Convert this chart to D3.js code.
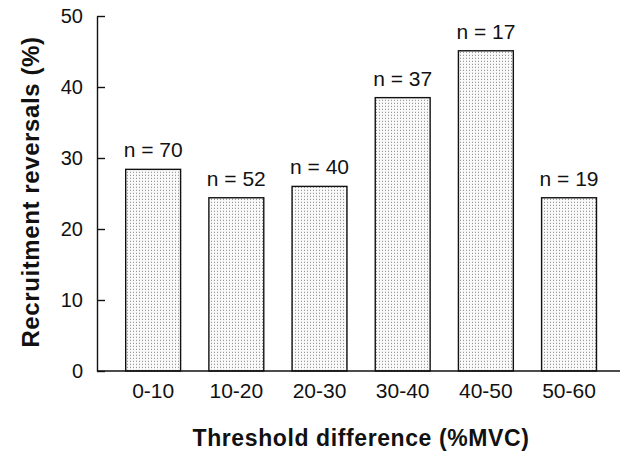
<!DOCTYPE html>
<html>
<head>
<meta charset="utf-8">
<script src="https://cdn.jsdelivr.net/npm/d3@7/dist/d3.min.js"></script>
<style>
  body { margin: 0; background: #fff; }
  svg { display: block; font-family: "Liberation Sans", Arial, sans-serif; }
</style>
</head>
<body>
<svg id="chart" width="623" height="451"></svg>
<script>
"use strict";

// data
var categories = ["0-10", "10-20", "20-30", "30-40", "40-50", "50-60"];
var reversals = [28.4, 24.4, 26.0, 38.5, 45.1, 24.4];
var counts = [70, 52, 40, 37, 17, 19];
var yTicks = [0, 10, 20, 30, 40, 50];

var svg = d3.select("#chart");

// stipple fill for the bars
var defs = svg.append("defs");
var pat = defs.append("pattern")
    .attr("id", "stipple")
    .attr("patternUnits", "userSpaceOnUse")
    .attr("width", 3).attr("height", 3);
pat.append("rect").attr("width", 3).attr("height", 3).attr("fill", "#fafafa");
pat.append("rect").attr("x", 1).attr("y", 1).attr("width", 1).attr("height", 1).attr("fill", "#9a9a9a");
pat.append("rect").attr("x", 1).attr("y", 0).attr("width", 1).attr("height", 1).attr("fill", "#e2e2e2");

var axisX = 97, axisRight = 620;

var y = d3.scaleLinear().domain([0, 50]).range([371, 16]);
var x = d3.scaleBand()
    .domain(categories)
    .range([125.7, 596.5])
    .paddingInner(0.34)
    .paddingOuter(0);

// bars
svg.append("g").selectAll("rect")
    .data(reversals)
    .enter()
    .append("rect")
    .attr("x", function(d, i) { return x(categories[i]); })
    .attr("y", function(d) { return y(d); })
    .attr("width", x.bandwidth())
    .attr("height", function(d) { return y(0) - y(d); })
    .attr("fill", "url(#stipple)")
    .attr("stroke", "#111")
    .attr("stroke-width", 1.4);

// n labels
svg.append("g").selectAll("text")
    .data(counts)
    .enter()
    .append("text")
    .attr("x", function(d, i) { return x(categories[i]) + x.bandwidth() / 2; })
    .attr("y", function(d, i) { return y(reversals[i]) - 12; })
    .attr("text-anchor", "middle")
    .style("font-size", "21px")
    .attr("fill", "#111")
    .text(function(d) { return "n = " + d; });

// y axis, ticks pointing inward
var yAxis = d3.axisLeft(y).tickValues(yTicks).tickSizeInner(-8).tickSizeOuter(0).tickPadding(14);
var gy = svg.append("g")
    .attr("transform", "translate(" + axisX + ",0)")
    .call(yAxis);
gy.select(".domain").attr("stroke", "#111").attr("stroke-width", 1.4);
gy.selectAll(".tick line").attr("stroke", "#111").attr("stroke-width", 1.4);
gy.selectAll(".tick text")
    .attr("fill", "#111")
    .style("font-size", "20px")
    .attr("font-family", null);

// x baseline
svg.append("line")
    .attr("x1", axisX).attr("x2", axisRight)
    .attr("y1", y(0)).attr("y2", y(0))
    .attr("stroke", "#111").attr("stroke-width", 1.4);

// category labels
svg.append("g").selectAll("text")
    .data(categories)
    .enter()
    .append("text")
    .attr("x", function(d) { return x(d) + x.bandwidth() / 2; })
    .attr("y", 398)
    .attr("text-anchor", "middle")
    .style("font-size", "21px")
    .attr("fill", "#111")
    .text(function(d) { return d; });

// axis titles
svg.append("text")
    .attr("x", 361)
    .attr("y", 446)
    .attr("text-anchor", "middle")
    .style("font-size", "23px")
    .style("font-weight", "bold")
    .style("letter-spacing", "0.6px")
    .attr("fill", "#111")
    .text("Threshold difference (%MVC)");

svg.append("text")
    .attr("transform", "translate(39,192) rotate(-90)")
    .attr("text-anchor", "middle")
    .style("font-size", "24px")
    .style("font-weight", "bold")
    .style("letter-spacing", "0.6px")
    .attr("fill", "#111")
    .text("Recruitment reversals (%)");
</script>
</body>
</html>
